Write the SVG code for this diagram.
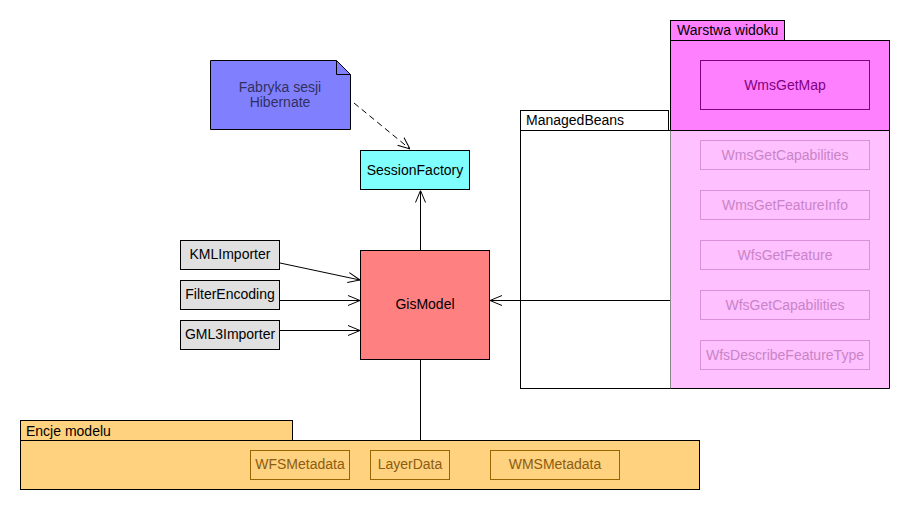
<svg xmlns="http://www.w3.org/2000/svg" width="910" height="510" viewBox="0 0 910 510">
<style>
text{font-family:"Liberation Sans",Arial,sans-serif;font-size:14px}
.c{text-anchor:middle}
.b{stroke:#000;stroke-width:1}
.ln{stroke:#000;stroke-width:1;fill:none}
.lo{fill:#FFC0FF;stroke:none}
.lbox{fill:none;stroke:#D890D8}
.ltxt{fill:#C884C8}
.ebox{fill:none;stroke:#9A6400}
.etxt{fill:#8C5C10}
</style>
<defs>
<marker id="arr" viewBox="0 0 12 12" refX="12" refY="6" markerWidth="12" markerHeight="12" markerUnits="userSpaceOnUse" orient="auto">
<path d="M0,1 L12,6 L0,11" fill="none" stroke="#000" stroke-width="1"/>
</marker>
</defs>
<rect width="910" height="510" fill="#fff"/>

<g id="managedbeans">
<rect x="520.5" y="110.5" width="148" height="20" fill="#fff" class="b"/>
<rect x="520.5" y="130.5" width="150" height="258" fill="#fff" class="b"/>
<text x="526" y="125">ManagedBeans</text>
</g>

<g id="warstwa-widoku">
<rect x="670.5" y="20.5" width="114" height="20" fill="#FF80FF" class="b"/>
<text x="677" y="35">Warstwa widoku</text>
<rect x="670.5" y="40.5" width="219" height="90" fill="#FF80FF" class="b"/>
<rect x="670.5" y="130.5" width="219" height="258" class="lo"/>
<path d="M670.5,130.5 V388.5" stroke="#888" fill="none"/>
<path d="M670.5,388.5 H889.5 V130.5" class="ln"/>
<path d="M670.5,130.5 H889.5" class="ln"/>
</g>

<g id="wmsgetmap">
<rect x="700.5" y="60.5" width="169" height="49" fill="none" stroke="#800080"/>
<text x="785" y="90" class="c" fill="#800080">WmsGetMap</text>
</g>
<g id="wmsgetcapabilities">
<rect x="700.5" y="140.5" width="169" height="29" class="lbox"/>
<text x="785" y="160" class="c ltxt">WmsGetCapabilities</text>
</g>
<g id="wmsgetfeatureinfo">
<rect x="700.5" y="190.5" width="169" height="29" class="lbox"/>
<text x="785" y="210" class="c ltxt">WmsGetFeatureInfo</text>
</g>
<g id="wfsgetfeature">
<rect x="700.5" y="240.5" width="169" height="29" class="lbox"/>
<text x="785" y="260" class="c ltxt">WfsGetFeature</text>
</g>
<g id="wfsgetcapabilities">
<rect x="700.5" y="290.5" width="169" height="29" class="lbox"/>
<text x="785" y="310" class="c ltxt">WfsGetCapabilities</text>
</g>
<g id="wfsdescribefeaturetype">
<rect x="700.5" y="340.5" width="169" height="29" class="lbox"/>
<text x="785" y="360" class="c ltxt">WfsDescribeFeatureType</text>
</g>

<g id="fabryka-sesji-note">
<path d="M210.5,60.5 H336.5 L350.5,74.5 V129.5 H210.5 Z" fill="#8080FF" class="b"/>
<path d="M336.5,60.5 V74.5 H350.5" fill="none" class="b"/>
<text x="280" y="92" class="c" fill="#303060">Fabryka sesji</text>
<text x="280" y="107" class="c" fill="#303060">Hibernate</text>
</g>

<g id="sessionfactory">
<rect x="360.5" y="150.5" width="109" height="39" fill="#80FFFF" class="b"/>
<text x="415" y="175" class="c">SessionFactory</text>
</g>

<g id="gismodel">
<rect x="360.5" y="250.5" width="129" height="109" fill="#FF8080" class="b"/>
<text x="425" y="309" class="c">GisModel</text>
</g>

<g id="kmlimporter">
<rect x="180.5" y="240.5" width="99" height="29" fill="#E0E0E0" class="b"/>
<text x="230" y="259" class="c">KMLImporter</text>
</g>
<g id="filterencoding">
<rect x="180.5" y="280.5" width="99" height="29" fill="#E0E0E0" class="b"/>
<text x="230" y="299" class="c">FilterEncoding</text>
</g>
<g id="gml3importer">
<rect x="180.5" y="320.5" width="99" height="29" fill="#E0E0E0" class="b"/>
<text x="230" y="339" class="c">GML3Importer</text>
</g>

<g id="encje-modelu">
<rect x="20.5" y="420.5" width="272" height="20" fill="#FFD280" class="b"/>
<text x="26" y="436">Encje modelu</text>
<rect x="20.5" y="440.5" width="679" height="49" fill="#FFD280" class="b"/>
</g>
<g id="wfsmetadata">
<rect x="250.5" y="450.5" width="99" height="29" class="ebox"/>
<text x="300" y="469" class="c etxt">WFSMetadata</text>
</g>
<g id="layerdata">
<rect x="370.5" y="450.5" width="79" height="29" class="ebox"/>
<text x="410" y="469" class="c etxt">LayerData</text>
</g>
<g id="wmsmetadata">
<rect x="490.5" y="450.5" width="129" height="29" class="ebox"/>
<text x="555" y="469" class="c etxt">WMSMetadata</text>
</g>

<g id="connectors">
<path d="M354,103 L410,149" class="ln" stroke-dasharray="6,4" marker-end="url(#arr)"/>
<path d="M420.5,250 V190.5" class="ln" marker-end="url(#arr)"/>
<path d="M280,263 L360,280" class="ln" marker-end="url(#arr)"/>
<path d="M280,300.5 H360" class="ln" marker-end="url(#arr)"/>
<path d="M280,330.5 H360" class="ln" marker-end="url(#arr)"/>
<path d="M670,300.5 H490" class="ln" marker-end="url(#arr)"/>
<path d="M420.5,360 V440" class="ln"/>
</g>
</svg>
